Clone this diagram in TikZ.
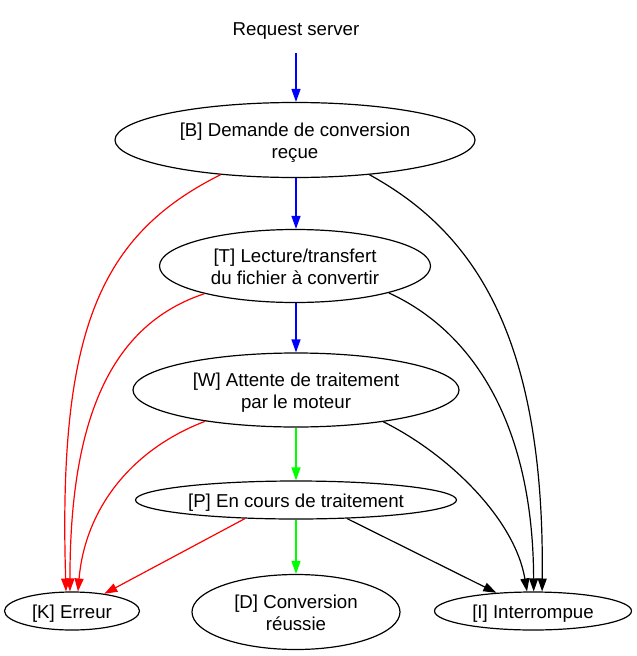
\documentclass[tikz,border=0pt]{standalone}
\usepackage{fontspec}
\setmainfont{Liberation Sans}
\usetikzlibrary{shapes.geometric,arrows.meta}
\begin{document}
\begin{tikzpicture}[x=1pt,y=-1pt,
    label text/.style={font=\fontsize{18.67}{22.4}\selectfont, text height=15pt, text depth=0pt},
    state/.style={label text, draw, ellipse, line width=1.2pt, inner sep=0pt, align=center},
    twolines/.style={text height=37.4pt},
    edge/.style={-{Triangle[length=13pt,width=9pt]}, line width=1.2pt}]
    \useasboundingbox (0,0) rectangle (637,656);
    % Start label
    \node[label text] (req) at (296,28) {Request server};
    % States
    \node[state, twolines, minimum width=360pt, minimum height=75pt] (B) at (295,140) {[B] Demande de conversion\\reçue};
    \node[state, twolines, minimum width=271pt, minimum height=73pt] (T) at (295,266) {[T] Lecture/transfert\\du fichier à convertir};
    \node[state, twolines, minimum width=326pt, minimum height=74pt] (W) at (296,390) {[W] Attente de traitement\\par le moteur};
    \node[state, minimum width=321pt, minimum height=38pt] (P) at (296,500) {[P] En cours de traitement};
    % Final states
    \node[state, minimum width=135pt, minimum height=38pt] (K) at (72,611) {[K] Erreur};
    \node[state, twolines, minimum width=208pt, minimum height=75pt] (D) at (296,612) {[D] Conversion\\réussie};
    \node[state, minimum width=197pt, minimum height=38pt] (I) at (533,611) {[I] Interrompue};
    % Main path
    \draw[edge, blue] (req.south |- 0,53) -- (B.north -| req.south);
    \draw[edge, blue] (B.south -| req.south) -- (T.north -| req.south);
    \draw[edge, blue] (T.south -| req.south) -- (W.north -| req.south);
    \draw[edge, green] (W.south) -- (P.north);
    \draw[edge, green] (P.south) -- (D.north);
    % Errors
    \draw[edge, red] (B.205) .. controls (100,235) and (58,330) .. (K.107);
    \draw[edge, red] (T.197) .. controls (110,325) and (70,420) .. (K.96);
    \draw[edge, red] (W.199) .. controls (130,450) and (85,510) .. (K.73);
    \draw[edge, red] (P.200) -- (K);
    % Interruptions
    \draw[edge] (B.335) .. controls (470,230) and (545,330) .. (I.65);
    \draw[edge] (T.344) .. controls (470,330) and (533,420) .. (I.88);
    \draw[edge] (W.340) .. controls (450,455) and (515,520) .. (I.107);
    \draw[edge] (P.340) -- (I);
\end{tikzpicture}
\end{document}
